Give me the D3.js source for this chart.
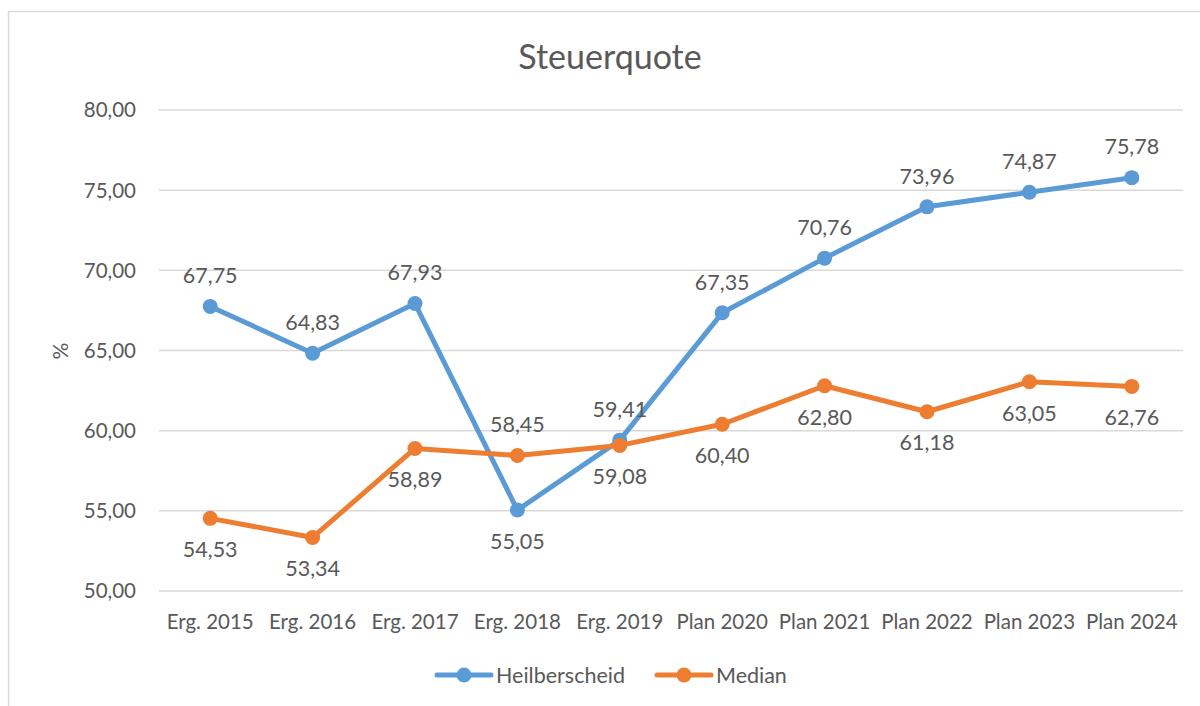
<!DOCTYPE html>
<html>
<head>
<meta charset="utf-8">
<script src="https://cdn.jsdelivr.net/npm/d3@7"></script>
<style>
  body { margin: 0; background: #fff; }
  svg text { font-family: Lato, "Open Sans", sans-serif; fill: #595959; }
  .grid line { stroke: #d9d9d9; stroke-width: 1.5; }
</style>
</head>
<body>
<svg width="1200" height="706"></svg>
<script>
var categories = ["Erg. 2015", "Erg. 2016", "Erg. 2017", "Erg. 2018", "Erg. 2019",
  "Plan 2020", "Plan 2021", "Plan 2022", "Plan 2023", "Plan 2024"];
var heilberscheid = [67.75, 64.83, 67.93, 55.05, 59.41, 67.35, 70.76, 73.96, 74.87, 75.78];
var median = [54.53, 53.34, 58.89, 58.45, 59.08, 60.40, 62.80, 61.18, 63.05, 62.76];
var yTicks = [50, 55, 60, 65, 70, 75, 80];
// label placement: true = above the point
var heilAbove = [true, true, true, false, true, true, true, true, true, true];
var medianAbove = [false, false, false, true, false, false, false, false, false, false];

var series = [
  { name: "Heilberscheid", values: heilberscheid, above: heilAbove, color: "#5b9bd5" },
  { name: "Median", values: median, above: medianAbove, color: "#ed7d31" }
];

var fmt = function(v) { return d3.format(".2f")(v).replace(".", ","); };

var svg = d3.select("svg");

// chart frame
svg.append("rect")
  .attr("x", 8.5).attr("y", 11.5)
  .attr("width", 1200).attr("height", 720)
  .attr("fill", "none")
  .attr("stroke", "#d9d9d9")
  .attr("stroke-width", 1.5);

var x = d3.scaleBand()
  .domain(categories)
  .range([159, 1183]);

var y = d3.scaleLinear()
  .domain([50, 80])
  .range([591, 110]);

// gridlines
svg.append("g").attr("class", "grid")
  .selectAll("line")
  .data(yTicks)
  .enter()
  .append("line")
  .attr("x1", 159).attr("x2", 1183)
  .attr("y1", function(d) { return y(d); })
  .attr("y2", function(d) { return y(d); });

// y axis labels
svg.append("g")
  .selectAll("text")
  .data(yTicks)
  .enter()
  .append("text")
  .attr("x", 136)
  .attr("y", function(d) { return y(d); })
  .attr("dy", "0.36em")
  .attr("text-anchor", "end")
  .style("font-size", "20.5px")
  .text(fmt);

// x axis labels
svg.append("g")
  .selectAll("text")
  .data(categories)
  .enter()
  .append("text")
  .attr("x", function(d) { return x(d) + x.bandwidth() / 2; })
  .attr("y", 622)
  .attr("dy", "0.36em")
  .attr("text-anchor", "middle")
  .style("font-size", "20.5px")
  .text(function(d) { return d; });

// title
svg.append("text")
  .attr("x", 610).attr("y", 57)
  .attr("dy", "0.36em")
  .attr("text-anchor", "middle")
  .style("font-size", "34px")
  .text("Steuerquote");

// y axis title
svg.append("text")
  .attr("transform", "translate(60,351) rotate(-90)")
  .attr("dy", "0.36em")
  .attr("text-anchor", "middle")
  .style("font-size", "21px")
  .text("%");

var line = d3.line()
  .x(function(d, i) { return x(categories[i]) + x.bandwidth() / 2; })
  .y(function(d) { return y(d); });

series.forEach(function(s) {
  var g = svg.append("g");
  g.append("path")
    .attr("d", line(s.values))
    .attr("fill", "none")
    .attr("stroke", s.color)
    .attr("stroke-width", 5)
    .attr("stroke-linejoin", "round")
    .attr("stroke-linecap", "round");

  g.selectAll("circle")
    .data(s.values)
    .enter()
    .append("circle")
    .attr("cx", function(d, i) { return x(categories[i]) + x.bandwidth() / 2; })
    .attr("cy", function(d) { return y(d); })
    .attr("r", 7.5)
    .attr("fill", s.color);
});

// data labels drawn on top
series.forEach(function(s) {
  svg.append("g")
    .selectAll("text")
    .data(s.values)
    .enter()
    .append("text")
    .attr("x", function(d, i) { return x(categories[i]) + x.bandwidth() / 2; })
    .attr("y", function(d, i) { return y(d) + (s.above[i] ? -31 : 31); })
    .attr("dy", "0.36em")
    .attr("text-anchor", "middle")
    .style("font-size", "21.5px")
    .text(fmt);
});

// legend
var legendX = [437, 657];
var legend = svg.append("g")
  .selectAll("g")
  .data(series)
  .enter()
  .append("g")
  .attr("transform", function(d, i) { return "translate(" + legendX[i] + ",675)"; });

legend.append("line")
  .attr("x1", 0).attr("x2", 54)
  .attr("stroke", function(d) { return d.color; })
  .attr("stroke-width", 5)
  .attr("stroke-linecap", "round");
legend.append("circle")
  .attr("cx", 27).attr("r", 7.5)
  .attr("fill", function(d) { return d.color; });
legend.append("text")
  .attr("x", 59)
  .attr("dy", "0.36em")
  .style("font-size", "21.5px")
  .text(function(d) { return d.name; });
</script>
</body>
</html>
